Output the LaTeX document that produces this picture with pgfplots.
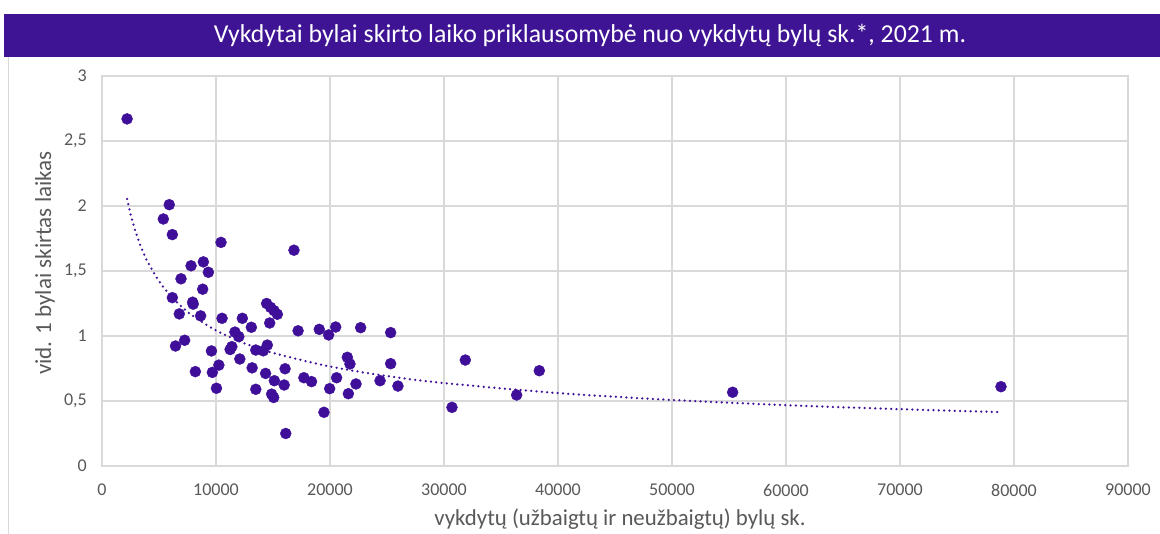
\documentclass[border=0pt]{standalone}
\usepackage{fontspec}
\setmainfont{Carlito}
\usepackage{pgfplots}
\pgfplotsset{compat=1.18}
\definecolor{purp}{HTML}{3F0F99}
\definecolor{banner}{HTML}{3E1494}
\definecolor{gridc}{HTML}{D9D9D9}
\definecolor{txt}{HTML}{595959}
\pgfplotstableread{
x y
2200 2.67
5900 2.01
5380 1.90
6170 1.78
10440 1.72
16840 1.66
7810 1.54
8890 1.57
9330 1.49
6930 1.44
8830 1.36
6170 1.295
7950 1.26
8000 1.245
6780 1.17
8650 1.155
10530 1.136
12310 1.136
13100 1.067
14710 1.10
14440 1.25
14790 1.22
15090 1.195
15380 1.167
17200 1.04
11660 1.03
12000 0.995
7250 0.967
6450 0.923
9600 0.885
11240 0.896
11390 0.918
13490 0.892
14150 0.886
14500 0.93
12090 0.823
13170 0.755
16060 0.748
8190 0.726
9680 0.72
10250 0.776
14350 0.712
15120 0.656
15980 0.623
10040 0.598
13490 0.59
14880 0.553
15060 0.527
16120 0.25
19060 1.051
19880 1.008
20500 1.069
22690 1.064
25320 1.026
21520 0.836
21750 0.785
25320 0.787
17710 0.679
18380 0.649
20580 0.679
22280 0.631
24390 0.656
25960 0.615
19970 0.595
21610 0.556
19470 0.413
31870 0.815
30700 0.451
36370 0.546
38360 0.733
55320 0.567
78860 0.61
}\points
\pgfplotstableread{
x y
2200 2.054
2600 1.906
3000 1.788
3500 1.668
4000 1.571
5000 1.422
6000 1.311
7000 1.224
8000 1.153
10000 1.043
12500 0.944
15000 0.870
20000 0.765
25000 0.692
30000 0.638
40000 0.561
50000 0.508
60000 0.468
70000 0.437
78600 0.415
}\trend
\begin{document}
\begin{tikzpicture}[x=1pt,y=1pt]
\useasboundingbox (0,0) rectangle (1160,534);
\fill[white] (0,0) rectangle (1160,534);
\draw[gridc, line width=1pt] (8,0) -- (8,477);
\fill[banner] (4,477) rectangle (1160,520);
\node[white, font=\fontsize{25.8}{30}\selectfont] at (590,498.5) {Vykdytai bylai skirto laiko priklausomybė nuo vykdytų bylų sk.*, 2021 m.};
\node[txt, rotate=90, font=\fontsize{23}{27}\selectfont] at (45,271) {vid. 1 bylai skirtas laikas};
\node[txt, font=\fontsize{22.8}{27}\selectfont] at (620,15) {vykdytų (užbaigtų ir neužbaigtų) bylų sk.};
\begin{axis}[
  at={(102pt,68pt)}, anchor=south west, scale only axis,
  width=1026pt, height=390pt,
  xmin=0, xmax=90000, ymin=0, ymax=3,
  xtick={0,10000,20000,30000,40000,50000,60000,70000,80000,90000},
  ytick={0,0.5,1,1.5,2,2.5,3},
  scaled x ticks=false, scaled y ticks=false,
  grid=major,
  major grid style={gridc, line width=1.3pt},
  axis line style={gridc, line width=1.3pt},
  tick style={draw=none},
  /pgf/number format/.cd, use comma, 1000 sep={}, assume math mode=true,
  /pgfplots/.cd,
  every tick label/.append style={inner sep=0pt, text=txt, font=\fontsize{18}{21}\selectfont},
  yticklabel style={xshift=-15pt},
  xticklabel style={yshift=-18pt},
  clip=false,
]
\addplot[purp, line width=2.5pt, dash pattern=on 0pt off 5.3pt, line cap=round, smooth] table[x=x,y=y] {\trend};
\addplot[only marks, mark=*, mark size=5.5pt, mark options={draw=purp, fill=purp}] table[x=x,y=y] {\points};
\end{axis}
\end{tikzpicture}
\end{document}
